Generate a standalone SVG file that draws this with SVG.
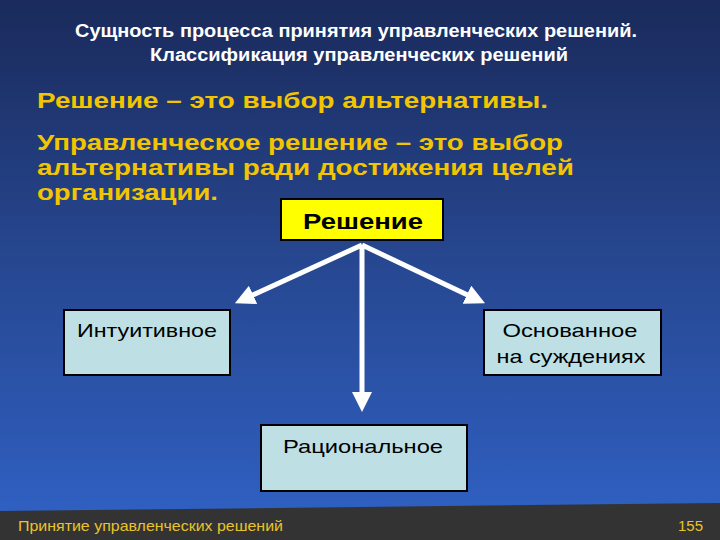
<svg xmlns="http://www.w3.org/2000/svg" width="720" height="540" viewBox="0 0 720 540">
  <defs>
    <linearGradient id="bg" x1="0" y1="0" x2="0" y2="1">
      <stop offset="0" stop-color="#1a2a5b"/>
      <stop offset="0.5" stop-color="#274892"/>
      <stop offset="1" stop-color="#3062c6"/>
    </linearGradient>
    <marker id="ah" viewBox="0 0 20 20" refX="10" refY="10" markerWidth="20" markerHeight="20" markerUnits="userSpaceOnUse" orient="auto">
      <path d="M0,0 L20,10 L0,20 z" fill="#ffffff"/>
    </marker>
    <style>
      .title { font-family: "Liberation Sans", Arial, sans-serif; font-weight: bold; font-size: 18px; fill: #ffffff; text-anchor: middle; }
      .def { font-family: "Liberation Sans", Arial, sans-serif; font-weight: bold; font-size: 22px; fill: #f2c500; }
      .box { fill: #bee0e4; stroke: #000000; stroke-width: 2; }
      .lbl { font-family: "Liberation Sans", Arial, sans-serif; font-size: 19px; fill: #000000; text-anchor: middle; }
      .conn { stroke: #ffffff; stroke-width: 5; fill: none; marker-end: url(#ah); }
      .foot { font-family: "Liberation Sans", Arial, sans-serif; font-size: 15px; fill: #e8c42a; }
    </style>
  </defs>
  <rect x="0" y="0" width="720" height="540" fill="url(#bg)"/>
  <polygon points="0,511 720,503 720,540 0,540" fill="#333333"/>

  <text class="title" x="356" y="37" textLength="562" lengthAdjust="spacingAndGlyphs">Сущность процесса принятия управленческих решений.</text>
  <text class="title" x="359" y="61" textLength="418" lengthAdjust="spacingAndGlyphs">Классификация управленческих решений</text>

  <text class="def" x="37" y="108" textLength="511" lengthAdjust="spacingAndGlyphs">Решение – это выбор альтернативы.</text>
  <text class="def" x="37" y="150" textLength="526" lengthAdjust="spacingAndGlyphs">Управленческое решение – это выбор</text>
  <text class="def" x="37" y="175" textLength="537" lengthAdjust="spacingAndGlyphs">альтернативы ради достижения целей</text>
  <text class="def" x="37" y="200" textLength="181" lengthAdjust="spacingAndGlyphs">организации.</text>

  <g id="connectors">
    <line class="conn" x1="362" y1="245" x2="244" y2="299"/>
    <line class="conn" x1="362" y1="245" x2="476" y2="299"/>
    <line class="conn" x1="362" y1="245" x2="362" y2="402"/>
  </g>

  <g id="node-reshenie">
    <rect x="281" y="199" width="162" height="41" fill="#ffff00" stroke="#000000" stroke-width="2"/>
    <text x="363" y="229" font-family="Liberation Sans, Arial, sans-serif" font-weight="bold" font-size="22" fill="#000000" text-anchor="middle" textLength="120" lengthAdjust="spacingAndGlyphs">Решение</text>
  </g>
  <g id="node-intuitive">
    <rect class="box" x="64" y="310" width="166" height="65"/>
    <text class="lbl" x="147" y="337" textLength="140" lengthAdjust="spacingAndGlyphs">Интуитивное</text>
  </g>
  <g id="node-judgement">
    <rect class="box" x="484" y="310" width="177" height="65"/>
    <text class="lbl" x="570" y="337" textLength="135" lengthAdjust="spacingAndGlyphs">Основанное</text>
    <text class="lbl" x="571" y="363" textLength="149" lengthAdjust="spacingAndGlyphs">на суждениях</text>
  </g>
  <g id="node-rational">
    <rect class="box" x="261" y="425" width="206" height="66"/>
    <text class="lbl" x="363" y="453" textLength="160" lengthAdjust="spacingAndGlyphs">Рациональное</text>
  </g>

  <text class="foot" x="18" y="531" textLength="265" lengthAdjust="spacingAndGlyphs">Принятие управленческих решений</text>
  <text class="foot" x="703" y="531" text-anchor="end">155</text>
</svg>
